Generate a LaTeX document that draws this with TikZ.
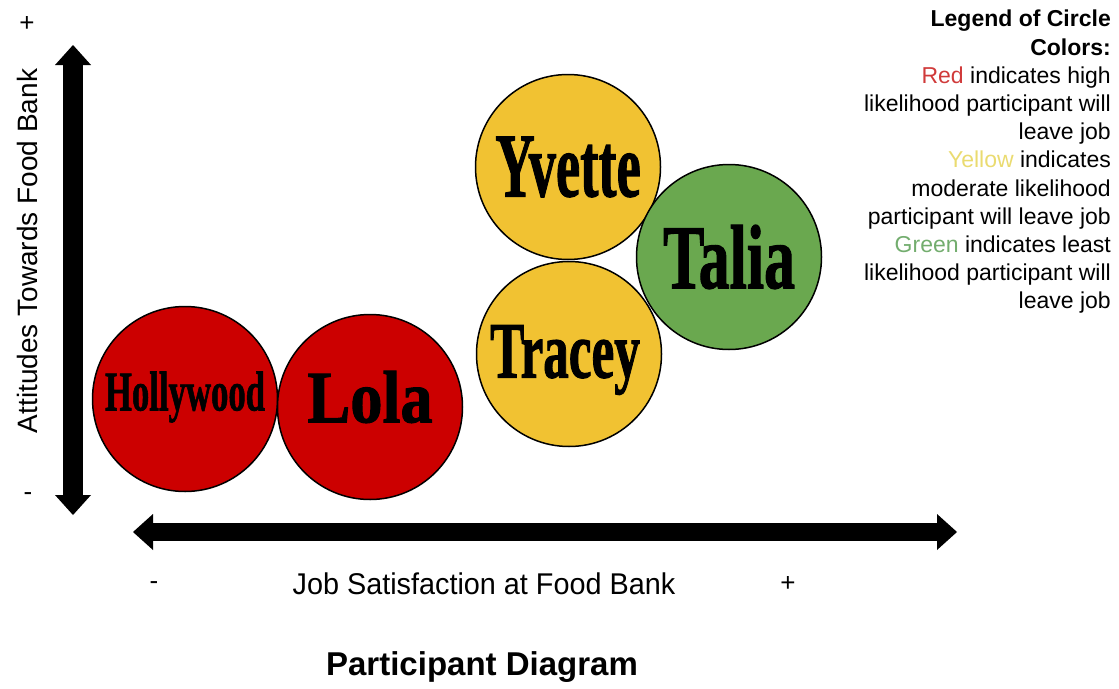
\documentclass[tikz,border=0pt]{standalone}
\usepackage{fontspec}
\setmainfont{Liberation Sans}
\newfontfamily\namefont{Liberation Serif}[BoldFeatures={FakeBold=1.5}]
\usetikzlibrary{arrows.meta}

\definecolor{hired}{HTML}{CC0000}
\definecolor{modyellow}{HTML}{F1C232}
\definecolor{lowgreen}{HTML}{6AA84F}
\definecolor{txtred}{HTML}{D03A3A}
\definecolor{txtyellow}{HTML}{EADB70}
\definecolor{txtgreen}{HTML}{73AD6E}

\tikzset{
  person/.style={circle, draw=black, line width=1.5pt, minimum size=185pt, inner sep=0pt},
  pname/.style={font=\namefont\bfseries, inner sep=0pt},
  bigarrow/.style={line width=#1,
    {Triangle[width=36pt,length=20pt,line width=0pt]}-{Triangle[width=36pt,length=20pt,line width=0pt]}},
}

\begin{document}
\begin{tikzpicture}[x=1pt,y=-1pt]
  \useasboundingbox (0,0) rectangle (1119,688);
  % axes
  \coordinate (ytop) at (73,45);
  \coordinate (ybot) at (73,515);
  \coordinate (xleft) at (133,532);
  \coordinate (xright) at (957,532);
  \draw[bigarrow=20pt] (ybot) -- (ytop);
  \draw[bigarrow=18pt] (xleft) -- (xright);
  \node[rotate=90, font=\fontsize{28}{28}\selectfont] (ylabel) at (27,251) {Attitudes Towards Food Bank};
  \node[font=\fontsize{26}{26}\selectfont] (yplus) at (27,24) {+};
  \node[font=\fontsize{26}{26}\selectfont] (yminus) at (28,497) {-};
  \node[font=\fontsize{30}{30}\selectfont] (xlabel) at (484,584) {\scalebox{0.96}[1]{Job Satisfaction at Food Bank}};
  \node[font=\fontsize{26}{26}\selectfont] (xminus) at (154,586) {-};
  \node[font=\fontsize{26}{26}\selectfont] (xplus) at (788,584) {+};
  \node[font=\bfseries\fontsize{33}{33}\selectfont] (title) at (482,667) {Participant Diagram};

  % participants
  \node[person, fill=hired] (hollywood) at (185,399) {};
  \node[person, fill=hired] (lola) at (370,407) {};
  \node[person, fill=modyellow] (yvette) at (568,167) {};
  \node[person, fill=modyellow] (tracey) at (569,354) {};
  \node[person, fill=lowgreen] (talia) at (729,257) {};
  \node[pname] (hollywood-name) at ([yshift=2pt]hollywood.center) {\scalebox{0.62}[1]{\fontsize{56}{56}\selectfont Hollywood}};
  \node[pname] (lola-name) at ([yshift=10pt]lola.center) {\scalebox{0.87}[1]{\fontsize{74}{74}\selectfont Lola}};
  \node[pname] (yvette-name) at (yvette) {\scalebox{0.6}[1]{\fontsize{91}{91}\selectfont Yvette}};
  \node[pname] (tracey-name) at ([xshift=-4pt,yshift=-6pt]tracey.center) {\scalebox{0.64}[1]{\fontsize{80}{80}\selectfont Tracey}};
  \node[pname] (talia-name) at (talia) {\scalebox{0.68}[1]{\fontsize{91}{91}\selectfont Talia}};

  % legend
  \node[anchor=north east, align=right, inner sep=0pt, font=\fontsize{23}{28.2}\selectfont] (legend) at (1111,10)
    {\textbf{Legend of Circle}\\ \textbf{Colors:}\\
     \textcolor{txtred}{Red} indicates high\\ likelihood participant will\\ leave job\\
     \textcolor{txtyellow}{Yellow} indicates\\ moderate likelihood\\ participant will leave job\\
     \textcolor{txtgreen}{Green} indicates least\\ likelihood participant will\\ leave job};
\end{tikzpicture}
\end{document}
